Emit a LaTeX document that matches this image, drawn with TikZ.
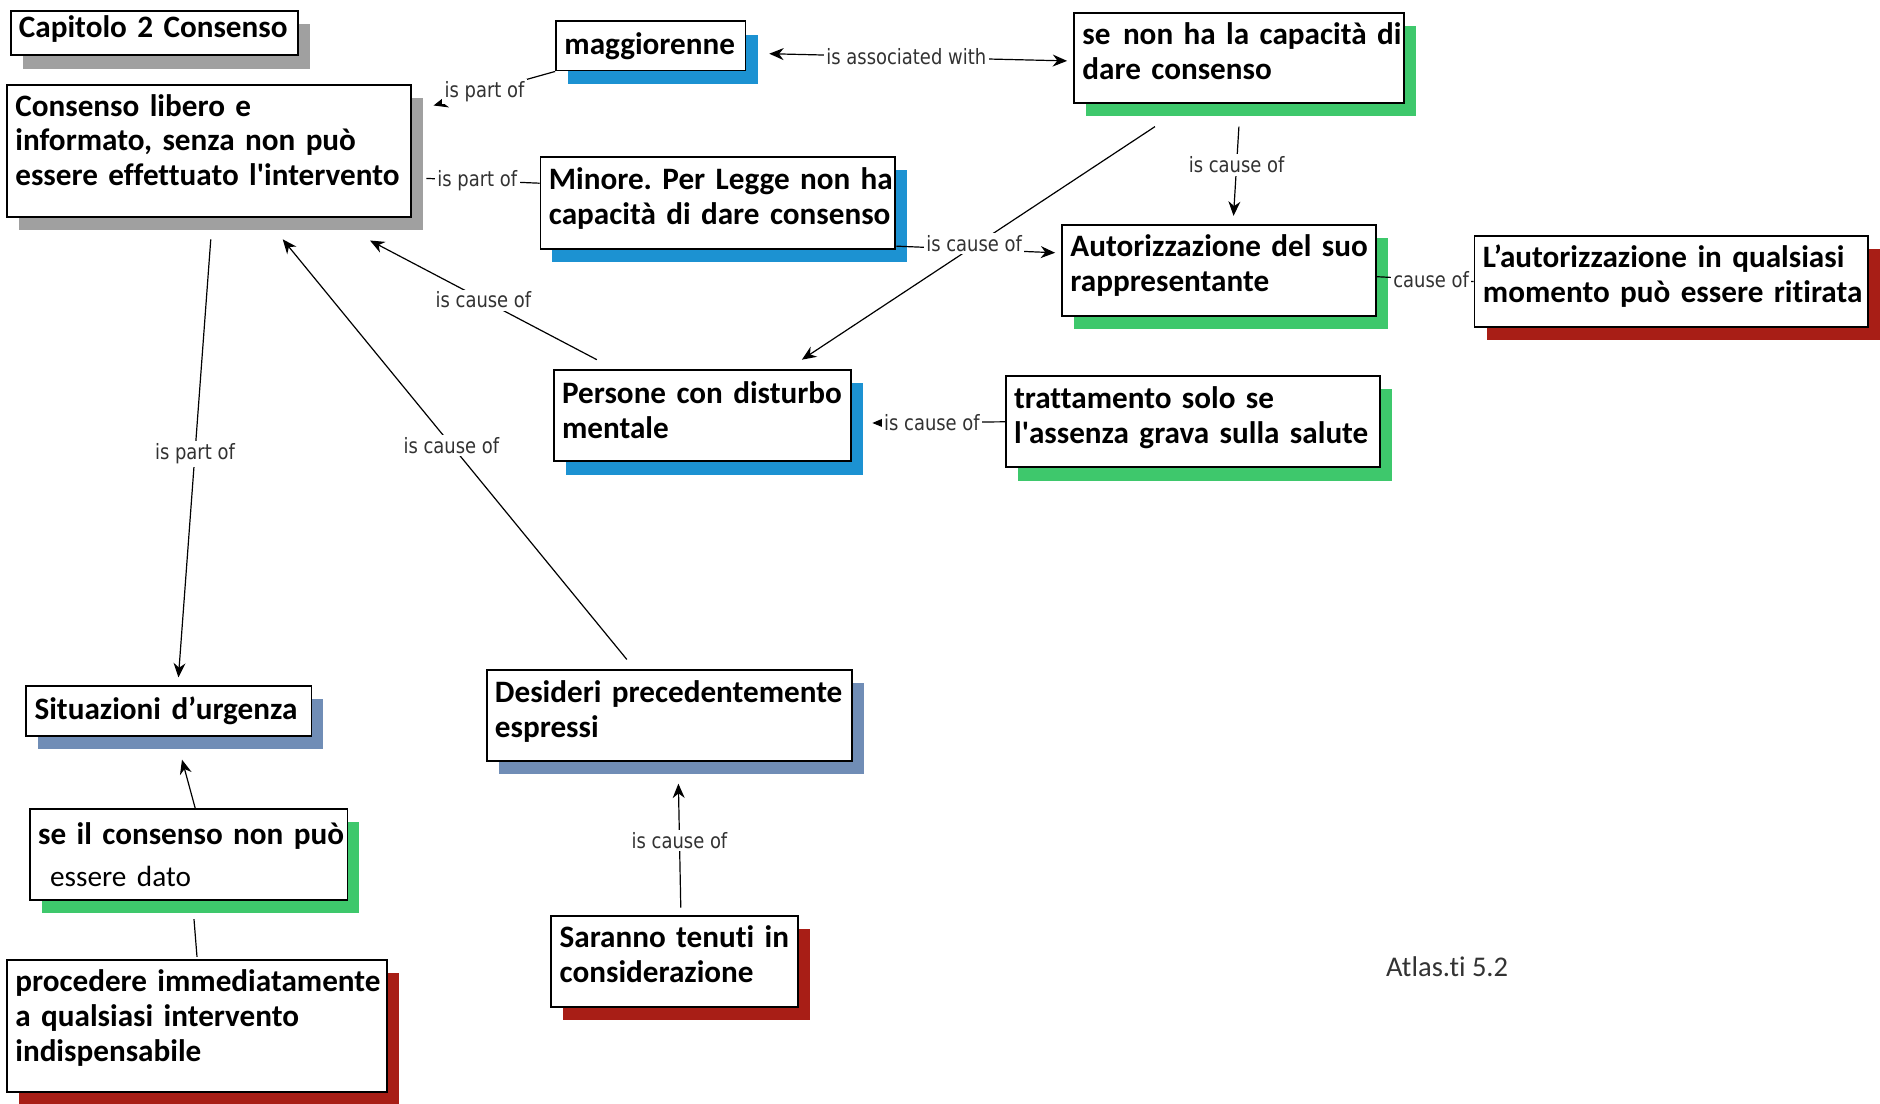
\documentclass[tikz,border=0pt]{standalone}
\usepackage{fontspec}
\usetikzlibrary{arrows.meta,shadows,calc}
\newfontfamily\carl[Ligatures=NoCommon]{Carlito}
\newfontfamily\lblf[FakeStretch=0.85]{DejaVu Sans}
\definecolor{shgray}{RGB}{160,160,160}
\definecolor{shblue}{RGB}{28,146,210}
\definecolor{shgreen}{RGB}{62,200,108}
\definecolor{shred}{RGB}{168,30,22}
\definecolor{shslate}{RGB}{112,141,182}
\definecolor{lbltext}{RGB}{50,50,50}
\newcommand\lin[1]{\mbox{#1}}
\newcommand\dn[1]{\rule[-#1]{0pt}{#1}}
\frenchspacing
\tikzset{
  cbox/.style={draw=black, line width=0.8pt, fill=white, anchor=north west,
    inner xsep=3.5pt, inner ysep=2pt, align=left,
    font=\carl\bfseries\fontsize{13}{14.5}\selectfont},
  shd/.style={drop shadow={shadow xshift=5pt, shadow yshift=-5.5pt, fill=#1, opacity=1}},
  lbl/.style={font=\lblf\fontsize{8.8}{10}\selectfont, fill=white, inner sep=1pt, text=lbltext},
  link/.style={line width=0.5pt},
  arr/.style={link, -{Stealth[length=6pt,width=5pt]}},
  darr/.style={link, {Stealth[length=6pt,width=5pt]}-{Stealth[length=6pt,width=5pt]}}
}
\begin{document}
\begin{tikzpicture}[x=0.5pt,y=-0.5pt]
\fill[white] (0,0) rectangle (1568,920);
\useasboundingbox (0,0) rectangle (1568,920);

% nodes
\node[cbox, shd=shgray, text width=113pt, minimum height=18.5pt] (cap) at (8,8) {\lin{Capitolo 2 Consenso\dn{5.6pt}}};
\node[cbox, shd=shgray, text width=161.5pt, minimum height=55pt] (cons) at (5,70)
  {\lin{Consenso libero e}\\\lin{informato, senza non può}\\\lin{essere effettuato l\textquotesingle intervento\dn{9pt}}};
\node[cbox, shd=shblue, text width=72pt, minimum height=20.5pt] (magg) at (463,17) {\lin{maggiorenne}};
\node[cbox, shd=shgreen, text width=130.5pt, minimum height=37.5pt] (se) at (895,10)
  {\lin{se\hspace{0.4em}non ha la capacità di}\\\lin{dare consenso\dn{6pt}}};
\node[cbox, shd=shblue, text width=141pt, minimum height=38.5pt] (mino) at (450,130)
  {\lin{Minore. Per Legge non ha}\\\lin{capacità di dare consenso\dn{5.6pt}}};
\node[cbox, shd=shgreen, text width=124pt, minimum height=38pt] (auto) at (885,187)
  {\lin{Autorizzazione del suo}\\\lin{rappresentante\dn{6.6pt}}};
\node[cbox, shd=shred, text width=157pt, minimum height=38pt] (laut) at (1229,196)
  {\lin{L’autorizzazione in qualsiasi}\\\lin{momento può essere ritirata\dn{6.6pt}}};
\node[cbox, shd=shblue, text width=117pt, minimum height=38pt] (pers) at (461,308)
  {\lin{Persone con disturbo}\\\lin{mentale\dn{5pt}}};
\node[cbox, shd=shgreen, text width=149pt, minimum height=38pt] (tratt) at (838,313)
  {\lin{trattamento solo se}\\\lin{l\textquotesingle assenza grava sulla salute\dn{5.6pt}}};
\node[cbox, shd=shslate, text width=112pt, minimum height=21pt] (situ) at (21,571)
  {\lin{Situazioni d’urgenza}};
\node[cbox, shd=shslate, text width=145.5pt, minimum height=38pt] (desi) at (405,558)
  {\lin{Desideri precedentemente}\\\lin{espressi\dn{5.6pt}}};
\node[cbox, shd=shgreen, text width=125.5pt, minimum height=38pt] (seil) at (24,674)
  {\lin{se il consenso non può}\\[3pt]\lin{\mdseries\fontsize{12.2}{14}\selectfont\hspace*{5pt}essere dato}};
\node[cbox, shd=shred, text width=151.5pt, minimum height=55pt] (proc) at (5,800)
  {\lin{procedere immediatamente}\\\lin{a qualsiasi intervento}\\\lin{indispensabile\dn{8.6pt}}};
\node[cbox, shd=shred, text width=96pt, minimum height=38pt] (sara) at (459,763)
  {\lin{Saranno tenuti in}\\\lin{considerazione\dn{6pt}}};
\node[font=\carl\fontsize{11.9}{13}\selectfont, text=black!80, inner sep=0pt] (atlas) at (1207,806) {Atlas.ti 5.2};

% connectors
\draw[arr] (magg.south west) -- node[lbl,pos=0.58]{is part of} ([xshift=9pt,yshift=-9pt]cons.north east);
\draw[link] ([yshift=8.25pt]mino.west) -- node[lbl,pos=0.55]{is part of} ([xshift=6pt,yshift=-11.5pt]cons.east);
\draw[darr] ([xshift=9.5pt,yshift=-3.25pt]magg.east) -- node[lbl,pos=0.46]{is associated with} ([xshift=-2.5pt,yshift=-1.25pt]se.west);
\draw[arr] ([yshift=-9.5pt]se.south) -- node[lbl,pos=0.43]{is cause of} ([xshift=6pt,yshift=3.5pt]auto.north);
\draw[arr] ([xshift=-35pt,yshift=-9.5pt]se.south) -- ([xshift=41.5pt,yshift=4pt]pers.north);
\draw[arr] ([yshift=-18pt]mino.east) -- node[lbl,pos=0.49,yshift=2.5pt]{is cause of} ([xshift=-2.5pt,yshift=7.5pt]auto.west);
\draw[arr] ([xshift=-44pt,yshift=4pt]pers.north) -- node[lbl,pos=0.5]{is cause of} ([xshift=-17.5pt,yshift=-9.5pt]cons.south east);
\draw[arr] ([xshift=-17.75pt,yshift=4pt]desi.north) -- node[lbl,pos=0.51]{is cause of} ([xshift=30.75pt,yshift=-9pt]cons.south);
\draw[arr] ([xshift=0.75pt,yshift=-9pt]cons.south) -- node[lbl,pos=0.49]{is part of} ([xshift=4pt,yshift=3pt]situ.north);
\draw[arr] (tratt.west) -- node[lbl,pos=0.55]{is cause of} ([xshift=8.5pt,yshift=-3pt]pers.east);
\draw[arr] ([xshift=2.75pt]seil.north) -- ([xshift=5.5pt,yshift=-9.5pt]situ.south);
\draw[link] ([yshift=1pt]proc.north) -- ([xshift=2.25pt,yshift=-7.5pt]seil.south);
\draw[arr] ([xshift=2.5pt,yshift=3pt]sara.north) -- node[lbl,pos=0.54]{is cause of} ([xshift=3.75pt,yshift=-9pt]desi.south);
\draw[link] ([yshift=-2.5pt]auto.east) -- node[lbl,pos=0.56]{cause of} (laut.west);
\end{tikzpicture}
\end{document}
